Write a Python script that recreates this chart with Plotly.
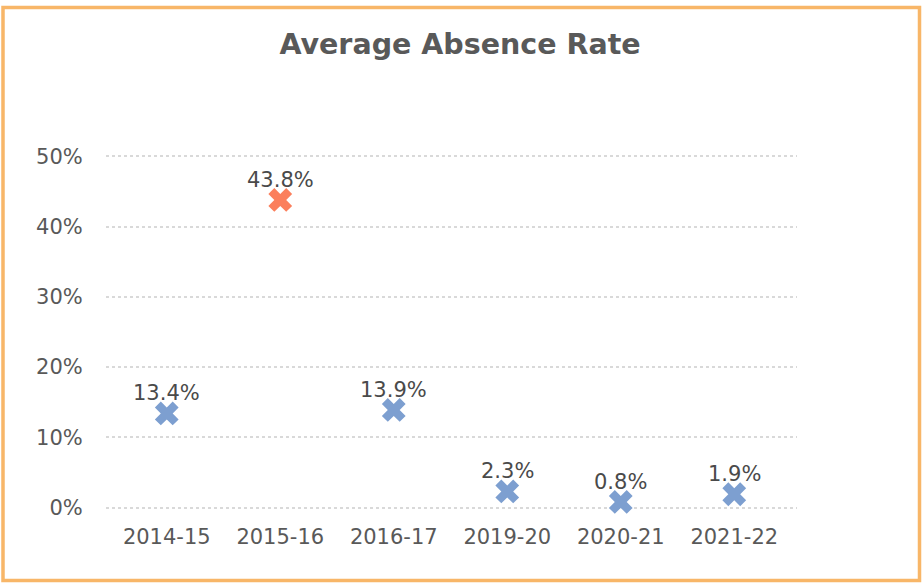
import plotly.graph_objects as go

# School years and the average absence rate for each
years = ["2014-15", "2015-16", "2016-17", "2019-20", "2020-21", "2021-22"]
absence_rate = [0.134, 0.438, 0.139, 0.023, 0.008, 0.019]
highlight_year = "2015-16"

y_ticks = [0, 0.1, 0.2, 0.3, 0.4, 0.5]
y_tick_text = ["0%", "10%", "20%", "30%", "40%", "50%"]

W, H = 922, 583
# plot area in pixels
X_LEFT, X_RIGHT = 106, 797
Y_ZERO, Y_TOP = 508, 156          # pixel rows of 0% and 50%
Y_MIN, Y_MAX = -0.002, 0.502      # tiny pad so the 0% and 50% grid lines are drawn
px_per_unit = (Y_ZERO - Y_TOP) / 0.5
M_T = round(Y_TOP - (Y_MAX - 0.5) * px_per_unit)
M_B = round(H - (Y_ZERO + (0 - Y_MIN) * px_per_unit))
M_L, M_R = X_LEFT, W - X_RIGHT
PW, PH = W - M_L - M_R, H - M_T - M_B

# category spacing and first category centre, in pixels
CAT_STEP, FIRST_CENTER = 113.5, 166.75
x_lo = -(FIRST_CENTER - X_LEFT) / CAT_STEP
x_hi = x_lo + PW / CAT_STEP

BLUE = "#7d9fd0"
ORANGE = "#fb7f5c"
TEXT = "#595959"
FONT = "DejaVu Sans, Verdana, sans-serif"

colors = [ORANGE if y == highlight_year else BLUE for y in years]
labels = [f"{v * 100:.1f}%" for v in absence_rate]

fig = go.Figure(
    go.Scatter(
        x=years,
        y=absence_rate,
        mode="markers",
        marker=dict(symbol="x", size=21, color=colors, line=dict(width=0)),
        cliponaxis=False,
        hoverinfo="skip",
    )
)

# value labels sitting just above each marker
for yr, val, lab in zip(years, absence_rate, labels):
    fig.add_annotation(
        x=yr, y=val, text=lab, showarrow=False,
        xanchor="center", yanchor="middle", yshift=20,
        font=dict(family=FONT, size=21, color="#4a4a4a"),
    )


def px_to_paper_x(px):
    return (px - M_L) / PW


def px_to_paper_y(py):
    return (H - M_B - py) / PH


# Orange frame around the whole chart
fig.add_shape(
    type="rect",
    xref="paper", yref="paper",
    x0=px_to_paper_x(3), x1=px_to_paper_x(919.5),
    y0=px_to_paper_y(580.5), y1=px_to_paper_y(7.5),
    line=dict(color="#f8b668", width=3.5),
    fillcolor="rgba(0,0,0,0)",
    layer="below",
)

fig.update_layout(
    width=W,
    height=H,
    margin=dict(l=M_L, r=M_R, t=M_T, b=M_B),
    paper_bgcolor="white",
    plot_bgcolor="white",
    showlegend=False,
    title=dict(
        text="<b>Average Absence Rate</b>",
        x=460 / W,
        xanchor="center",
        y=1 - 44 / H,
        yanchor="middle",
        yref="container",
        font=dict(family=FONT, size=28.5, color=TEXT),
    ),
    xaxis=dict(
        type="category",
        range=[x_lo, x_hi],
        showgrid=False,
        zeroline=False,
        showline=False,
        ticks="outside",
        ticklen=9,
        tickcolor="rgba(0,0,0,0)",
        tickfont=dict(family=FONT, size=21, color=TEXT),
    ),
    yaxis=dict(
        range=[Y_MIN, Y_MAX],
        tickvals=y_ticks,
        ticktext=y_tick_text,
        showgrid=True,
        gridcolor="#d9d9d9",
        gridwidth=2,
        griddash="dot",
        zeroline=False,
        showline=False,
        ticks="outside",
        ticklen=18,
        tickcolor="rgba(0,0,0,0)",
        tickfont=dict(family=FONT, size=21, color=TEXT),
    ),
)

fig.write_html("out.html")
